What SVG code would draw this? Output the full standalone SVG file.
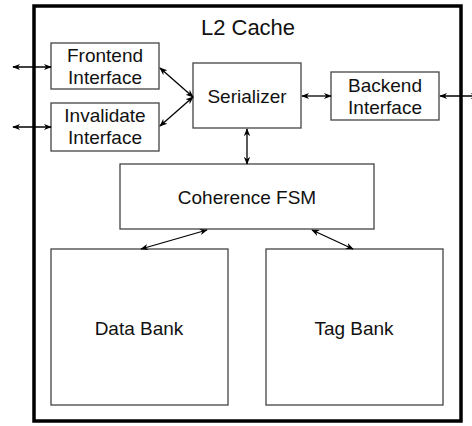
<svg xmlns="http://www.w3.org/2000/svg" width="472" height="426" viewBox="0 0 472 426">
<defs>
<style>
.box{fill:#fff;stroke:#444;stroke-width:1.3}
.t{font-family:"Liberation Sans",Arial,sans-serif;font-size:19px;fill:#111;text-anchor:middle}
.c{stroke:#000;stroke-width:1.3;fill:none;marker-start:url(#a);marker-end:url(#a)}
</style>
<marker id="a" viewBox="0 0 10 10" refX="9" refY="5" markerWidth="8" markerHeight="8" markerUnits="userSpaceOnUse" orient="auto-start-reverse"><path d="M0,1 L10,5 L0,9 L3,5 Z" fill="#000"/></marker>
</defs>
<rect width="472" height="426" fill="#fff"/>
<g id="l2cache">
<rect x="34" y="6" width="427" height="415" fill="none" stroke="#000" stroke-width="3.5"/>
<text class="t" x="248" y="35" style="font-size:22px">L2 Cache</text>
</g>
<g id="frontend"><rect class="box" x="51" y="43" width="108" height="46"/><text class="t" x="105" y="62">Frontend</text><text class="t" x="105" y="84">Interface</text></g>
<g id="invalidate"><rect class="box" x="51" y="103" width="108" height="48"/><text class="t" x="105" y="122">Invalidate</text><text class="t" x="105" y="144">Interface</text></g>
<g id="serializer"><rect class="box" x="193" y="63" width="108" height="65"/><text class="t" x="247" y="103">Serializer</text></g>
<g id="backend"><rect class="box" x="331" y="72" width="108" height="48"/><text class="t" x="385" y="92">Backend</text><text class="t" x="385" y="114">Interface</text></g>
<g id="fsm"><rect class="box" x="120" y="164" width="254" height="65"/><text class="t" x="247" y="204">Coherence FSM</text></g>
<g id="databank"><rect class="box" x="51" y="249" width="177" height="156"/><text class="t" x="139" y="335">Data Bank</text></g>
<g id="tagbank"><rect class="box" x="266" y="249" width="177" height="156"/><text class="t" x="354" y="335">Tag Bank</text></g>
<g id="connectors">
<line class="c" x1="13" y1="67" x2="51" y2="67"/>
<line class="c" x1="13" y1="127" x2="51" y2="127"/>
<line class="c" x1="160" y1="68" x2="193" y2="97"/>
<line class="c" x1="160" y1="126" x2="193" y2="97"/>
<line class="c" x1="302" y1="96" x2="331" y2="96"/>
<line class="c" x1="440" y1="96" x2="478" y2="96"/>
<line class="c" x1="247" y1="129" x2="247" y2="164"/>
<line class="c" x1="207" y1="230" x2="141" y2="249"/>
<line class="c" x1="312" y1="230" x2="353" y2="249"/>
</g>
</svg>
